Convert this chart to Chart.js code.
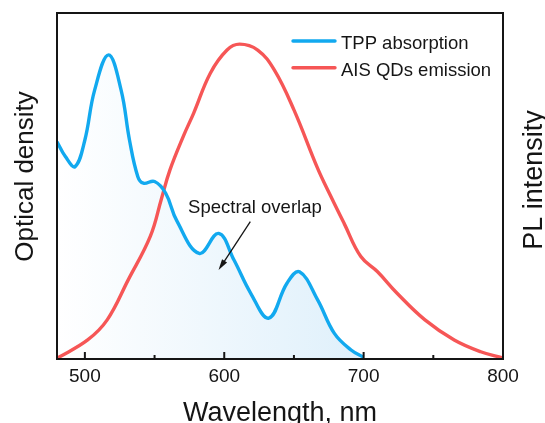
<!DOCTYPE html>
<html>
<head>
<meta charset="utf-8">
<script src="https://cdn.jsdelivr.net/npm/chart.js@4.4.0/dist/chart.umd.min.js"></script>
<style>
  html, body { margin: 0; padding: 0; background: #fff; }
  #wrap { width: 545px; height: 423px; }
</style>
</head>
<body>
<div id="wrap"><canvas id="chart" width="545" height="423"></canvas></div>
<script>
// TPP absorption (optical density, arbitrary units)
const absWavelength = [480, 486, 493, 500, 507, 517, 526, 532, 538, 542, 550, 558, 566, 582, 596, 607, 619, 632, 645, 654, 667, 679, 691, 700];
const absDensity    = [62.8, 58.5, 55.6, 63.3, 77.7, 87.9, 77.7, 63.3, 52.7, 50.8, 51.3, 47.9, 39.9, 30.5, 36.3, 28.6, 19.0, 11.8, 21.9, 25.2, 17.1, 7.4, 2.6, 0.5];

// AIS QDs emission (PL intensity, arbitrary units)
const emWavelength = [480, 502, 516, 531, 547, 555, 561, 571, 578, 590, 602, 611, 624, 636, 650, 667, 676, 686, 698, 710, 724, 744, 765, 784, 800];
const emIntensity  = [0.2, 5.5, 11.3, 22.8, 35.5, 46.4, 54.6, 64.7, 71.0, 82.6, 89.3, 91.0, 89.3, 83.5, 72.0, 55.1, 47.4, 39.2, 29.6, 25.2, 19.0, 11.3, 5.5, 2.1, 0.3];

const xTickValues = [500, 550, 600, 650, 700, 750, 800];
const xMajorTicks = [500, 600, 700, 800];
const seriesNames = ['TPP absorption', 'AIS QDs emission'];
const seriesColors = ['#12a9ef', '#f65656'];

const FONT = '"Liberation Sans", Arial, sans-serif';
const INK = '#151515';

function toPoints(xs, ys) {
  return xs.map((x, i) => ({ x: x, y: ys[i] }));
}

// frame, inward ticks, axis titles, legend and the overlap note
const decorations = {
  id: 'decorations',
  afterDraw(chart) {
    const ctx = chart.ctx;
    const area = chart.chartArea;
    const x = chart.scales.x;
    const y = chart.scales.y;
    ctx.save();

    ctx.strokeStyle = INK;
    ctx.lineWidth = 2;
    ctx.strokeRect(area.left, area.top, area.right - area.left, area.bottom - area.top);

    xTickValues.forEach(v => {
      const px = x.getPixelForValue(v);
      const len = xMajorTicks.includes(v) ? 7 : 4;
      ctx.beginPath();
      ctx.moveTo(px, area.bottom);
      ctx.lineTo(px, area.bottom - len);
      ctx.stroke();
    });

    ctx.fillStyle = INK;
    ctx.textBaseline = 'alphabetic';

    // x title
    ctx.font = '27px ' + FONT;
    ctx.textAlign = 'center';
    ctx.fillText('Wavelength, nm', (area.left + area.right) / 2, 420.5);

    // y titles
    ctx.save();
    ctx.translate(33, 176.5);
    ctx.rotate(-Math.PI / 2);
    ctx.font = '26px ' + FONT;
    ctx.fillText('Optical density', 0, 0);
    ctx.restore();

    ctx.save();
    ctx.translate(541.5, 180);
    ctx.rotate(-Math.PI / 2);
    ctx.font = '27px ' + FONT;
    ctx.fillText('PL intensity', 0, 0);
    ctx.restore();

    // legend
    ctx.font = '18.5px ' + FONT;
    ctx.textAlign = 'left';
    seriesNames.forEach((name, i) => {
      const ly = 41 + i * 26.7;
      ctx.strokeStyle = seriesColors[i];
      ctx.lineWidth = 3.4;
      ctx.lineCap = 'round';
      ctx.beginPath();
      ctx.moveTo(293, ly);
      ctx.lineTo(335, ly);
      ctx.stroke();
      ctx.fillStyle = INK;
      ctx.fillText(name, 341, ly + 8);
    });

    // annotation
    ctx.font = '18.5px ' + FONT;
    ctx.textAlign = 'center';
    ctx.fillText('Spectral overlap', x.getPixelForValue(622), y.getPixelForValue(44.2) + 6.7);

    const ax0 = x.getPixelForValue(618.7), ay0 = y.getPixelForValue(39.7);
    const ax1 = x.getPixelForValue(595.9), ay1 = y.getPixelForValue(25.7);
    const ang = Math.atan2(ay1 - ay0, ax1 - ax0);
    ctx.strokeStyle = INK;
    ctx.lineWidth = 1.3;
    ctx.lineCap = 'butt';
    ctx.beginPath();
    ctx.moveTo(ax0, ay0);
    ctx.lineTo(ax1 - 6 * Math.cos(ang), ay1 - 6 * Math.sin(ang));
    ctx.stroke();
    ctx.beginPath();
    ctx.moveTo(ax1, ay1);
    ctx.lineTo(ax1 - 11 * Math.cos(ang) + 3 * Math.sin(ang), ay1 - 11 * Math.sin(ang) - 3 * Math.cos(ang));
    ctx.lineTo(ax1 - 11 * Math.cos(ang) - 3 * Math.sin(ang), ay1 - 11 * Math.sin(ang) + 3 * Math.cos(ang));
    ctx.closePath();
    ctx.fill();

    ctx.restore();
  }
};

const overlapFill = (context) => {
  const chart = context.chart;
  const area = chart.chartArea;
  if (!area) return 'rgba(0,0,0,0)';
  const g = chart.ctx.createLinearGradient(area.left, 0, chart.scales.x.getPixelForValue(700), 0);
  g.addColorStop(0, '#ffffff');
  g.addColorStop(1, '#dff0fb');
  return g;
};

new Chart(document.getElementById('chart'), {
  type: 'line',
  data: {
    datasets: [
      {
        label: seriesNames[0],
        data: toPoints(absWavelength, absDensity),
        borderColor: seriesColors[0],
        backgroundColor: overlapFill,
        borderWidth: 3.4,
        fill: 'origin',
        pointRadius: 0,
        tension: 0.4
      },
      {
        label: seriesNames[1],
        data: toPoints(emWavelength, emIntensity),
        borderColor: seriesColors[1],
        borderWidth: 3.4,
        fill: false,
        pointRadius: 0,
        tension: 0.4
      }
    ]
  },
  options: {
    responsive: false,
    animation: false,
    devicePixelRatio: 1,
    layout: { padding: { top: 13, right: 42, left: 0, bottom: 0 } },
    plugins: {
      legend: { display: false },
      tooltip: { enabled: false },
      filler: { drawTime: 'beforeDatasetsDraw' }
    },
    scales: {
      x: {
        type: 'linear',
        min: 480,
        max: 800,
        grid: { display: false, drawTicks: false },
        border: { display: false },
        afterBuildTicks: (scale) => { scale.ticks = xTickValues.map(v => ({ value: v })); },
        afterFit: (scale) => { scale.height = 64; },
        ticks: {
          autoSkip: false,
          maxRotation: 0,
          padding: 6,
          color: INK,
          font: { family: FONT, size: 19 },
          callback: (v) => xMajorTicks.includes(v) ? String(v) : ''
        }
      },
      y: {
        min: 0,
        max: 100,
        grid: { display: false, drawTicks: false },
        border: { display: false },
        ticks: { display: false },
        afterFit: (scale) => { scale.width = 57; }
      }
    }
  },
  plugins: [decorations]
});
</script>
</body>
</html>
